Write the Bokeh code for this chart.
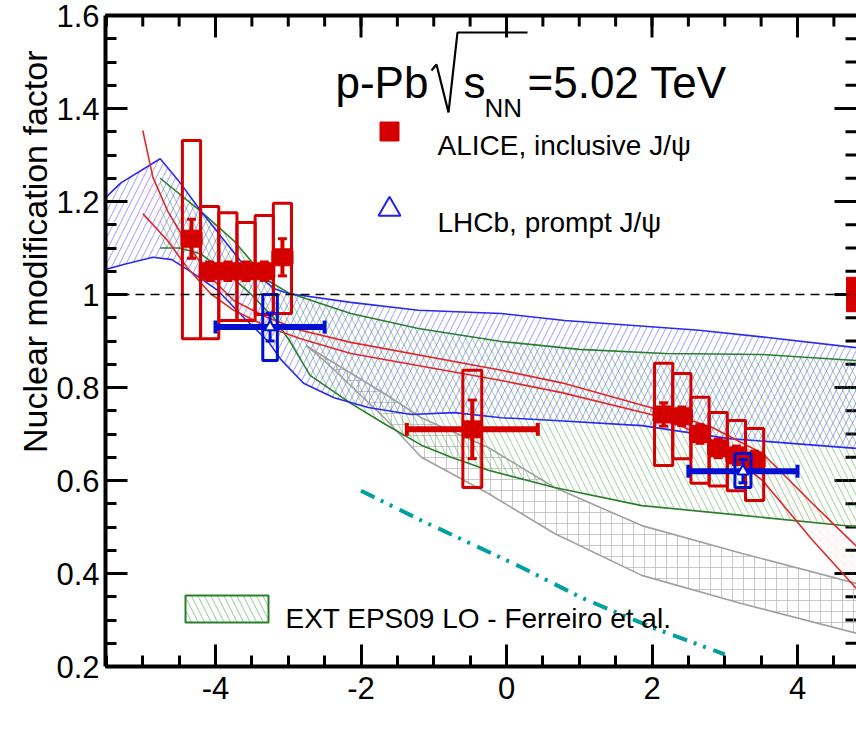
import math
from bokeh.plotting import figure
from bokeh.models import (Range1d, LinearAxis, FixedTicker, PrintfTickFormatter, Label,
                          ColumnDataSource, Span, Title)
from bokeh.embed import file_html
from bokeh.resources import INLINE

# ---------------- data ----------------
# ALICE inclusive J/psi (bin centres in y_cms)
alice_y = [-4.33, -4.08, -3.83, -3.58, -3.33, -3.08, -0.47, 2.16, 2.41, 2.66, 2.91, 3.16, 3.41]
alice_ylo = [-4.455, -4.205, -3.955, -3.705, -3.455, -3.205, -1.37, 2.035, 2.285, 2.535, 2.785, 3.035, 3.285]
alice_yhi = [-4.205, -3.955, -3.705, -3.455, -3.205, -2.955, 0.43, 2.285, 2.535, 2.785, 3.035, 3.285, 3.535]
alice_R = [1.12, 1.05, 1.05, 1.05, 1.05, 1.08, 0.71, 0.742, 0.738, 0.70, 0.669, 0.654, 0.643]
alice_stat = [0.042, 0.02, 0.02, 0.02, 0.02, 0.04, 0.063, 0.025, 0.02, 0.02, 0.02, 0.02, 0.02]
alice_sys_lo = [0.905, 0.905, 0.944, 0.944, 0.957, 0.959, 0.585, 0.632, 0.647, 0.594, 0.588, 0.578, 0.557]
alice_sys_hi = [1.331, 1.189, 1.176, 1.155, 1.170, 1.196, 0.837, 0.852, 0.830, 0.779, 0.746, 0.729, 0.712]
alice_box_hw = [0.125, 0.125, 0.125, 0.125, 0.125, 0.125, 0.13, 0.125, 0.125, 0.125, 0.125, 0.125, 0.125]
alice_global = 0.037

# LHCb prompt J/psi
lhcb_y = [-3.25, 3.25]
lhcb_ylo = [-4.0, 2.5]
lhcb_yhi = [-2.5, 4.0]
lhcb_R = [0.93, 0.62]
lhcb_stat = [0.03, 0.025]
lhcb_sys_lo = [0.858, 0.585]
lhcb_sys_hi = [1.0, 0.658]
lhcb_box_hw = [0.1, 0.11]

# EPS09 NLO band (blue)
blue_up_x = [-5.6, -5.3, -4.76, -4.48, -4.21, -3.66, -3.2, -3.0, -2.14, -1.21, -0.07, 0.8, 2.65, 3.56, 4.9]
blue_up_y = [1.195, 1.24, 1.292, 1.239, 1.181, 1.073, 1.013, 1.002, 0.983, 0.966, 0.959, 0.944, 0.923, 0.908, 0.884]
blue_lo_x = [-5.6, -5.25, -4.86, -4.6, -4.3, -3.97, -3.61, -3.28, -3.1, -2.79, -2.37, -1.9, -1.31, -0.72, -0.07, 0.66, 1.86, 3.06, 4.9]
blue_lo_y = [1.05, 1.065, 1.08, 1.075, 1.045, 1.009, 0.95, 0.90, 0.86, 0.809, 0.778, 0.757, 0.742, 0.746, 0.735, 0.729, 0.718, 0.69, 0.668]

# EXT EPS09 LO band (green)
green_up_x = [-4.76, -4.21, -3.75, -3.28, -3.0, -2.14, -1.21, -0.07, 1.0, 2.18, 3.52, 4.9]
green_up_y = [1.25, 1.18, 1.116, 1.03, 1.004, 0.959, 0.927, 0.899, 0.882, 0.873, 0.871, 0.857]
green_lo_x = [-4.76, -4.5, -4.21, -3.83, -3.52, -3.2, -3.0, -2.7, -2.14, -1.68, -1.17, -0.76, -0.25, 0.66, 1.86, 3.24, 4.9]
green_lo_y = [1.10, 1.10, 1.088, 1.045, 1.002, 0.95, 0.905, 0.826, 0.766, 0.722, 0.676, 0.65, 0.622, 0.585, 0.546, 0.525, 0.499]

# E. loss + EPS09 band (grey)
grey_up_x = [-2.75, -2.5, -1.68, -1.17, -0.25, 0.66, 1.86, 3.24, 4.9]
grey_up_y = [0.89, 0.865, 0.787, 0.735, 0.671, 0.585, 0.503, 0.443, 0.375]
grey_lo_x = [-2.75, -2.45, -1.68, -1.17, -0.25, 0.66, 1.86, 3.24, 4.9]
grey_lo_y = [0.89, 0.85, 0.735, 0.65, 0.572, 0.486, 0.396, 0.335, 0.268]

# E. loss curves (red)
red_a_x = [-5.0, -4.86, -4.66, -4.39, -4.07, -3.75, -3.28, -2.83, -2.14, -0.07, 0.76, 2.14, 2.83, 3.52, 4.21, 4.9]
red_a_y = [1.353, 1.252, 1.18, 1.11, 1.037, 0.987, 0.95, 0.923, 0.897, 0.837, 0.81, 0.75, 0.714, 0.658, 0.55, 0.445]
red_b_x = [-5.0, -4.66, -4.39, -4.07, -3.75, -3.28, -2.83, -2.14, -0.07, 0.76, 2.14, 2.83, 3.52, 4.21, 4.9]
red_b_y = [1.174, 1.116, 1.058, 1.002, 0.966, 0.93, 0.905, 0.873, 0.815, 0.789, 0.736, 0.686, 0.60, 0.471, 0.352]

# CGC (teal dash-dot)
cgc_x = [-2.0, -1.17, 0.21, 1.03, 2.0, 3.0]
cgc_y = [0.578, 0.514, 0.413, 0.348, 0.284, 0.226]

x_major = [-4, -2, 0, 2, 4]
x_minor = [v * 0.5 for v in range(-11, 10)]
y_major = [0.2, 0.4, 0.6, 0.8, 1.0, 1.2, 1.4, 1.6]
y_minor = [round(0.2 + 0.05 * k, 3) for k in range(29)]

# ---------------- style / layout ----------------
RED = "#d40000"
BLUE = "#0010d0"
BBAND = "#2a2af0"
GREEN = "#2a7f2a"
GREY = "#a0a0a0"
TEAL = "#00a0a0"
FONT = "Liberation Sans"

W, H = 856, 730
ML, MT, MB = 105, 15, 64
FL, FR, FT, FB = ML, W, MT, H - MB          # frame in page pixels
XS = 72.75                                  # px per unit of y_cms
XMIN = -4 - (215 - FL) / XS
XMAX = XMIN + (FR - FL) / XS
YMIN, YMAX = 0.2, 1.6


def px2x(px):
    return XMIN + (px - FL) * (XMAX - XMIN) / (FR - FL)


def px2y(py):
    return YMAX - (py - FT) * (YMAX - YMIN) / (FB - FT)


p = figure(width=W, height=H, x_range=Range1d(XMIN, XMAX), y_range=Range1d(YMIN, YMAX),
           output_backend="svg", toolbar_location=None,
           min_border_left=ML, min_border_top=MT, min_border_bottom=MB, min_border_right=0,
           x_axis_type=None, y_axis_type=None)
p.xgrid.visible = False
p.ygrid.visible = False
p.outline_line_color = None
p.background_fill_color = "white"
p.border_fill_color = "white"


def make_axis(loc):
    if loc == "below":
        t = FixedTicker(ticks=x_major, minor_ticks=x_minor)
    else:
        t = FixedTicker(ticks=y_major, minor_ticks=y_minor)
    ax = LinearAxis(ticker=t, formatter=PrintfTickFormatter(format="%g"))
    ax.axis_line_width = 4
    ax.axis_line_color = "black"
    ax.major_tick_line_width = 3
    ax.minor_tick_line_width = 3
    ax.major_tick_in = 22
    ax.major_tick_out = 0
    ax.minor_tick_in = 11
    ax.minor_tick_out = 0
    ax.major_label_text_font = FONT
    ax.major_label_text_font_size = "31px"
    ax.major_label_text_color = "black"
    ax.major_label_standoff = 10 if loc == "below" else 6
    p.add_layout(ax, loc)
    return ax


make_axis("below")
make_axis("left")

# top spine (no ticks, no labels) and mirrored ticks on top / right
top = LinearAxis(ticker=FixedTicker(ticks=[]), axis_line_width=4, axis_line_color="black",
                 major_tick_out=0, major_tick_in=0, minor_tick_in=0, minor_tick_out=0,
                 major_label_standoff=0)
p.add_layout(top, "above")
p.ray(x=x_major, y=[YMAX] * len(x_major), length=22, length_units="screen",
      angle=-math.pi / 2, line_color="black", line_width=3)
p.ray(x=x_minor, y=[YMAX] * len(x_minor), length=11, length_units="screen",
      angle=-math.pi / 2, line_color="black", line_width=3)
p.ray(x=[XMAX] * len(y_major), y=y_major, length=22, length_units="screen",
      angle=math.pi, line_color="black", line_width=3)
p.ray(x=[XMAX] * len(y_minor), y=y_minor, length=11, length_units="screen",
      angle=math.pi, line_color="black", line_width=3)

# y axis title placed like the reference (upper part of the axis)
p.add_layout(Title(text="Nuclear modification factor", align="right", offset=35,
                   text_font=FONT, text_font_size="34px", text_font_style="normal",
                   text_color="black", standoff=0), "left")

# ---------------- theory bands ----------------
band_common = dict(fill_alpha=0, line_color=None, hatch_weight=1)
p.patch(grey_up_x + grey_lo_x[::-1], grey_up_y + grey_lo_y[::-1], hatch_pattern="+",
        hatch_color="#bcbcbc", hatch_alpha=0.8, hatch_scale=11, **band_common)
p.patch(green_up_x + green_lo_x[::-1], green_up_y + green_lo_y[::-1], hatch_pattern="\\",
        hatch_color="#4aa84a", hatch_alpha=0.55, hatch_scale=13, **band_common)
p.patch(blue_up_x + blue_lo_x[::-1], blue_up_y + blue_lo_y[::-1], hatch_pattern="/",
        hatch_color="#5a5aff", hatch_alpha=0.6, hatch_scale=13, **band_common)
p.patch(red_a_x + red_b_x[::-1], red_a_y + red_b_y[::-1], hatch_pattern="x",
        hatch_color="#ff9a9a", hatch_alpha=0.2, hatch_scale=8, **band_common)

for xs, ys, c in [(grey_up_x, grey_up_y, GREY), (grey_lo_x, grey_lo_y, GREY),
                  (green_up_x, green_up_y, GREEN), (green_lo_x, green_lo_y, GREEN),
                  (blue_up_x, blue_up_y, BBAND), (blue_lo_x, blue_lo_y, BBAND),
                  (red_a_x, red_a_y, "#e02828"), (red_b_x, red_b_y, "#e02828")]:
    p.line(xs, ys, line_color=c, line_width=1.6)

p.line(cgc_x, cgc_y, line_color=TEAL, line_width=4, line_dash="15 7 3 7 3 8")

p.add_layout(Span(location=1.0, dimension="width", line_color="black", line_width=1.6,
                  line_dash="9 6"))

# global normalisation uncertainty box at the right edge
p.quad(left=[px2x(846)], right=[XMAX + 0.3], bottom=[1 - alice_global], top=[1 + alice_global],
       fill_color=RED, line_color=RED)

# ---------------- data points ----------------
def src(xc, xlo, xhi, R, stat, slo, shi, hw):
    return ColumnDataSource(dict(
        x=xc, R=R, xlo=xlo, xhi=xhi,
        slo=[r - s for r, s in zip(R, stat)], shi=[r + s for r, s in zip(R, stat)],
        blo=[x - w for x, w in zip(xc, hw)], bhi=[x + w for x, w in zip(xc, hw)],
        ylo=slo, yhi=shi))


asrc = src(alice_y, alice_ylo, alice_yhi, alice_R, alice_stat, alice_sys_lo, alice_sys_hi, alice_box_hw)
lsrc = src(lhcb_y, lhcb_ylo, lhcb_yhi, lhcb_R, lhcb_stat, lhcb_sys_lo, lhcb_sys_hi, lhcb_box_hw)


def draw_points(s, col, marker, msize, stat_w):
    p.quad(left="blo", right="bhi", bottom="ylo", top="yhi", source=s,
           fill_color=None, line_color=col, line_width=3)
    p.segment(x0="xlo", y0="R", x1="xhi", y1="R", source=s, line_color=col, line_width=6)
    for cx in ("xlo", "xhi"):
        p.scatter(cx, "R", source=s, marker="dash", angle=math.pi / 2, size=13,
                  line_color=col, line_width=4)
    p.segment(x0="x", y0="slo", x1="x", y1="shi", source=s, line_color=col, line_width=stat_w)
    for cy in ("slo", "shi"):
        p.scatter("x", cy, source=s, marker="dash", size=9, line_color=col, line_width=3)
    if marker == "square":
        p.scatter("x", "R", source=s, marker="square", size=msize, fill_color=col, line_color=col)
    else:
        p.scatter("x", "R", source=s, marker=marker, size=msize, fill_color="white",
                  line_color=col, line_width=2)


draw_points(asrc, RED, "square", 17, 4)
draw_points(lsrc, BLUE, "triangle", 11, 3)

# ---------------- legends (drawn in place) ----------------
lab = dict(text_font=FONT, text_color="black", text_baseline="alphabetic")
p.scatter(x=[px2x(389)], y=[px2y(131)], marker="square", size=19, fill_color=RED, line_color=RED)
p.add_layout(Label(x=px2x(437), y=px2y(145), text="ALICE, inclusive J/ψ", text_font_size="28px", **lab))
p.scatter(x=[px2x(389)], y=[px2y(209)], marker="triangle", size=22, fill_color=None,
          line_color="#2020f0", line_width=2)
p.add_layout(Label(x=px2x(437), y=px2y(222), text="LHCb, prompt J/ψ", text_font_size="28px", **lab))
p.quad(left=[px2x(185)], right=[px2x(268)], bottom=[px2y(622)], top=[px2y(595)],
       fill_alpha=0, line_color=GREEN, line_width=2, hatch_pattern="\\",
       hatch_color="#4aa84a", hatch_alpha=0.6, hatch_scale=13)
p.add_layout(Label(x=px2x(285), y=px2y(618), text="EXT EPS09 LO - Ferreiro et al.",
                   text_font_size="28px", **lab))

# ---------------- collision system ----------------
p.add_layout(Label(x=px2x(335), y=px2y(82), text="p-Pb", text_font_size="44px", **lab))
p.line([px2x(431), px2x(436), px2x(448), px2x(457), px2x(527)],
       [px2y(70), px2y(64), px2y(112), px2y(32), px2y(32)], line_color="black", line_width=2.2)
p.add_layout(Label(x=px2x(463), y=px2y(82), text="s", text_font_size="44px", **lab))
p.add_layout(Label(x=px2x(484), y=px2y(107), text="NN", text_font_size="26px", **lab))
p.add_layout(Label(x=px2x(527), y=px2y(82), text="=5.02 TeV", text_font_size="44px", **lab))

open("out.html", "w").write(file_html(p, INLINE))
